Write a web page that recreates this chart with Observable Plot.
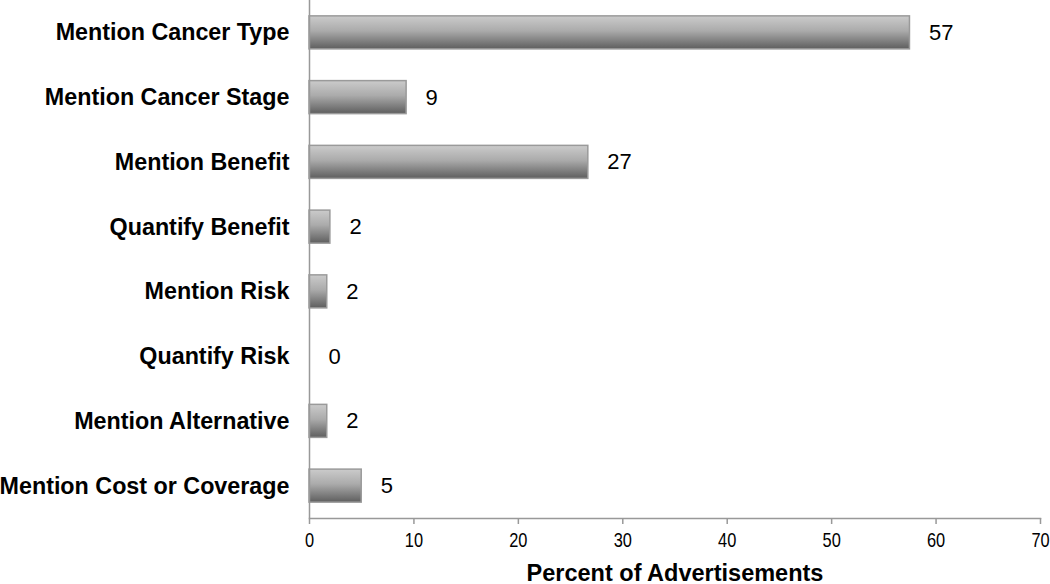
<!DOCTYPE html>
<html>
<head>
<meta charset="utf-8">
<script src="https://cdn.jsdelivr.net/npm/d3@7"></script>
<script src="https://cdn.jsdelivr.net/npm/@observablehq/plot@0.6"></script>
<style>
  html, body { margin: 0; padding: 0; background: #fff; }
  #chart { width: 1050px; height: 584px; }
</style>
</head>
<body>
<div id="chart"></div>
<script>
const categories = [
  "Mention Cancer Type",
  "Mention Cancer Stage",
  "Mention Benefit",
  "Quantify Benefit",
  "Mention Risk",
  "Quantify Risk",
  "Mention Alternative",
  "Mention Cost or Coverage"
];
const values = [57.5, 9.3, 26.7, 2.0, 1.7, 0, 1.7, 5.0];
const valueLabels = ["57", "9", "27", "2", "2", "0", "2", "5"];
const xTicks = [0, 10, 20, 30, 40, 50, 60, 70];
const xTitle = "Percent of Advertisements";

const data = categories.map((c, i) => ({category: c, value: values[i], label: valueLabels[i]}));

const chart = Plot.plot({
  width: 1050,
  height: 584,
  marginLeft: 309,
  marginRight: 10,
  marginTop: 0,
  marginBottom: 66,
  style: {fontFamily: "'Liberation Sans', Arial, sans-serif", fontSize: "20px", color: "#000", background: "#fff"},
  x: {domain: [0, 70], ticks: xTicks},
  y: {domain: categories, paddingInner: 0.49, paddingOuter: 0.245, round: false},
  marks: [
    Plot.barX(data.filter(d => d.value > 0), {
      x: "value", y: "category",
      fill: "url(#barGrad)", stroke: "#9a9a9a", strokeWidth: 1.5
    }),
    Plot.text(data, {
      x: "value", y: "category", text: "label",
      dx: 19, textAnchor: "start", fontSize: 22, fill: "#000"
    }),
    Plot.ruleX([0], {stroke: "#999", strokeWidth: 1.5}),
    Plot.frame({anchor: "bottom", stroke: "#999", strokeWidth: 1.5}),
    Plot.axisX({
      ticks: xTicks, tickSize: 6, tickPadding: 8, stroke: "#999",
      fontSize: 20, fill: "#000", strokeWidth: 1.5,
      label: xTitle, labelAnchor: "center", labelArrow: "none", labelOffset: 62
    }),
    Plot.axisY({
      tickSize: 0, tickPadding: 20, fontSize: 23.3, fontWeight: "bold", fill: "#000", label: null
    })
  ]
});

const ns = "http://www.w3.org/2000/svg";
const defs = document.createElementNS(ns, "defs");
const grad = document.createElementNS(ns, "linearGradient");
grad.setAttribute("id", "barGrad");
grad.setAttribute("x1", "0"); grad.setAttribute("y1", "0");
grad.setAttribute("x2", "0"); grad.setAttribute("y2", "1");
[["0", "#cbcbcb"], ["0.45", "#ababab"], ["1", "#5e5e5e"]].forEach(([o, c]) => {
  const s = document.createElementNS(ns, "stop");
  s.setAttribute("offset", o); s.setAttribute("stop-color", c);
  grad.appendChild(s);
});
defs.appendChild(grad);
chart.insertBefore(defs, chart.firstChild);

chart.querySelectorAll("text").forEach(t => {
  const txt = t.textContent;
  if (txt === xTitle) {
    t.setAttribute("font-weight", "bold");
    t.setAttribute("font-size", "23.5");
  } else if (xTicks.map(String).includes(txt) && t.closest("g[aria-label='x-axis tick label']")) {
    const tr = t.getAttribute("transform") || "";
    t.setAttribute("transform", tr + " scale(0.82,1)");
  }
});

document.getElementById("chart").appendChild(chart);
</script>
</body>
</html>
